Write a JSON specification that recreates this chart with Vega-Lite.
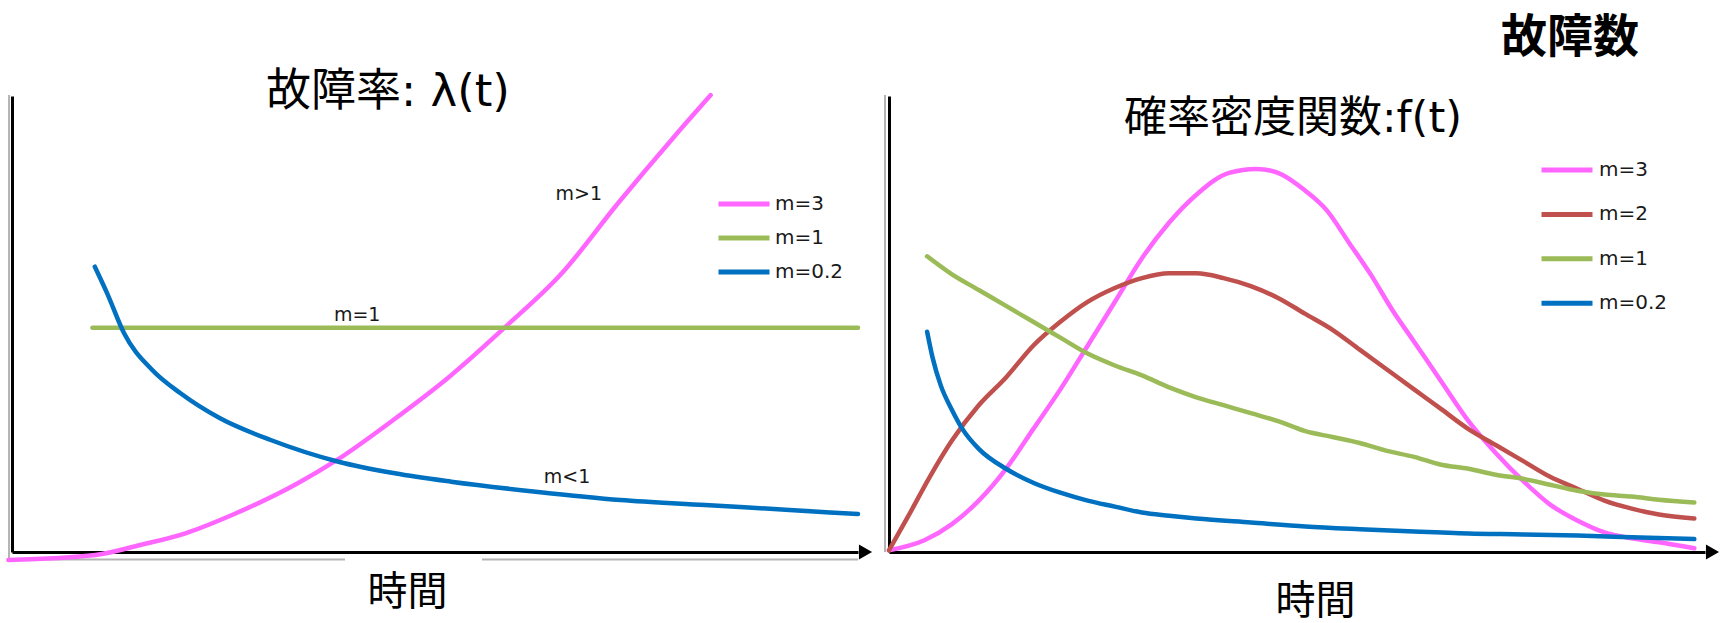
{
  "$schema": "https://vega.github.io/schema/vega-lite/v6.json",
  "autosize": {"type": "none"},
  "padding": {"left": 12, "top": 96, "right": 1711, "bottom": 527},
  "background": "white",
  "bounds": "flush",
  "spacing": 31,
  "config": {
    "view": {"stroke": null},
    "axis": {
      "grid": false, "ticks": false, "labels": false,
      "domainColor": "#000000", "domainWidth": 3,
      "titleFont": "Noto Sans CJK JP", "titleFontSize": 40, "titleFontWeight": "normal", "titleColor": "#000000"
    },
    "legend": {
      "title": null, "orient": "none", "padding": 0,
      "symbolType": "stroke", "symbolSize": 2601, "symbolStrokeWidth": 5,
      "clipHeight": 24,
      "labelFont": "DejaVu Sans", "labelFontSize": 20, "labelColor": "#1a1a1a"
    }
  },
  "datasets": {
    "lambda": [
      {"m": "m=3", "t": -0.43, "v": -1.75}, {"m": "m=3", "t": 9.87, "v": -0.66}, {"m": "m=3", "t": 15.18, "v": 1.54},
      {"m": "m=3", "t": 20.5, "v": 4.1}, {"m": "m=3", "t": 26.48, "v": 8.49}, {"m": "m=3", "t": 33.78, "v": 15.07},
      {"m": "m=3", "t": 38.42, "v": 20.18}, {"m": "m=3", "t": 45.07, "v": 28.95}, {"m": "m=3", "t": 51.7, "v": 38.44},
      {"m": "m=3", "t": 58.35, "v": 49.41}, {"m": "m=3", "t": 64.99, "v": 61.12}, {"m": "m=3", "t": 71.63, "v": 76.47},
      {"m": "m=3", "t": 78.27, "v": 91.07}, {"m": "m=3", "t": 82.59, "v": 100.2},
      {"m": "m=1", "t": 9.5, "v": 49.2}, {"m": "m=1", "t": 100, "v": 49.2},
      {"m": "m=0.2", "t": 9.79, "v": 62.57}, {"m": "m=0.2", "t": 11.25, "v": 56.73}, {"m": "m=0.2", "t": 13.25, "v": 47.96},
      {"m": "m=0.2", "t": 16.58, "v": 39.91}, {"m": "m=0.2", "t": 19.92, "v": 34.8}, {"m": "m=0.2", "t": 24.59, "v": 29.32},
      {"m": "m=0.2", "t": 30.58, "v": 24.56}, {"m": "m=0.2", "t": 38.58, "v": 19.8}, {"m": "m=0.2", "t": 45.25, "v": 17.26},
      {"m": "m=0.2", "t": 51.91, "v": 15.42}, {"m": "m=0.2", "t": 61.91, "v": 13.22}, {"m": "m=0.2", "t": 71.91, "v": 11.4},
      {"m": "m=0.2", "t": 81.91, "v": 10.31}, {"m": "m=0.2", "t": 91.92, "v": 9.21}, {"m": "m=0.2", "t": 100, "v": 8.33}
    ],
    "density": [
      {"m": "m=3", "t": 0, "v": 0.37}, {"m": "m=3", "t": 4.34, "v": 2.57}, {"m": "m=3", "t": 7.67, "v": 6.05},
      {"m": "m=3", "t": 11.0, "v": 11.27}, {"m": "m=3", "t": 14.34, "v": 18.25}, {"m": "m=3", "t": 17.67, "v": 26.95},
      {"m": "m=3", "t": 21.0, "v": 35.66}, {"m": "m=3", "t": 24.34, "v": 45.24}, {"m": "m=3", "t": 27.67, "v": 54.82},
      {"m": "m=3", "t": 31.0, "v": 64.43}, {"m": "m=3", "t": 34.34, "v": 72.26}, {"m": "m=3", "t": 37.67, "v": 78.36},
      {"m": "m=3", "t": 41.68, "v": 83.16}, {"m": "m=3", "t": 45.01, "v": 84.01}, {"m": "m=3", "t": 47.67, "v": 83.16},
      {"m": "m=3", "t": 51.02, "v": 79.23}, {"m": "m=3", "t": 53.68, "v": 74.87}, {"m": "m=3", "t": 56.35, "v": 67.89},
      {"m": "m=3", "t": 59.01, "v": 60.94}, {"m": "m=3", "t": 61.68, "v": 53.09}, {"m": "m=3", "t": 64.35, "v": 46.12},
      {"m": "m=3", "t": 67.68, "v": 37.41}, {"m": "m=3", "t": 71.02, "v": 28.71}, {"m": "m=3", "t": 74.35, "v": 21.73},
      {"m": "m=3", "t": 77.68, "v": 15.64}, {"m": "m=3", "t": 81.02, "v": 10.39}, {"m": "m=3", "t": 84.35, "v": 6.91},
      {"m": "m=3", "t": 87.68, "v": 4.3}, {"m": "m=3", "t": 91.02, "v": 3.0}, {"m": "m=3", "t": 94.35, "v": 2.13},
      {"m": "m=3", "t": 98.69, "v": 0.81},
      {"m": "m=2", "t": 0, "v": 0.37}, {"m": "m=2", "t": 2.34, "v": 7.79}, {"m": "m=2", "t": 5.0, "v": 16.49},
      {"m": "m=2", "t": 7.67, "v": 24.34}, {"m": "m=2", "t": 11.0, "v": 32.19}, {"m": "m=2", "t": 14.34, "v": 38.29},
      {"m": "m=2", "t": 17.67, "v": 45.24}, {"m": "m=2", "t": 21.0, "v": 50.48}, {"m": "m=2", "t": 24.34, "v": 54.85},
      {"m": "m=2", "t": 27.67, "v": 57.89}, {"m": "m=2", "t": 31.0, "v": 60.07}, {"m": "m=2", "t": 34.34, "v": 61.12},
      {"m": "m=2", "t": 37.67, "v": 61.12}, {"m": "m=2", "t": 41.0, "v": 60.07}, {"m": "m=2", "t": 44.34, "v": 58.31},
      {"m": "m=2", "t": 47.67, "v": 55.7}, {"m": "m=2", "t": 51.02, "v": 52.21}, {"m": "m=2", "t": 54.35, "v": 48.73},
      {"m": "m=2", "t": 57.68, "v": 44.39}, {"m": "m=2", "t": 61.02, "v": 40.02}, {"m": "m=2", "t": 64.35, "v": 35.66},
      {"m": "m=2", "t": 67.68, "v": 31.32}, {"m": "m=2", "t": 71.02, "v": 26.95}, {"m": "m=2", "t": 74.35, "v": 23.46},
      {"m": "m=2", "t": 77.68, "v": 19.98}, {"m": "m=2", "t": 81.02, "v": 16.49}, {"m": "m=2", "t": 84.35, "v": 13.88},
      {"m": "m=2", "t": 87.68, "v": 11.27}, {"m": "m=2", "t": 91.02, "v": 9.52}, {"m": "m=2", "t": 94.35, "v": 8.22},
      {"m": "m=2", "t": 98.69, "v": 7.35},
      {"m": "m=1", "t": 4.67, "v": 64.85}, {"m": "m=1", "t": 7.67, "v": 60.94}, {"m": "m=1", "t": 11.0, "v": 57.46},
      {"m": "m=1", "t": 14.34, "v": 53.97}, {"m": "m=1", "t": 17.67, "v": 50.48}, {"m": "m=1", "t": 21.0, "v": 47.0},
      {"m": "m=1", "t": 24.34, "v": 43.51}, {"m": "m=1", "t": 27.67, "v": 40.9}, {"m": "m=1", "t": 31.0, "v": 38.73},
      {"m": "m=1", "t": 34.34, "v": 36.1}, {"m": "m=1", "t": 37.67, "v": 33.93}, {"m": "m=1", "t": 41.0, "v": 32.19},
      {"m": "m=1", "t": 44.34, "v": 30.44}, {"m": "m=1", "t": 47.67, "v": 28.71}, {"m": "m=1", "t": 51.02, "v": 26.51},
      {"m": "m=1", "t": 54.35, "v": 25.22}, {"m": "m=1", "t": 57.68, "v": 23.9}, {"m": "m=1", "t": 61.02, "v": 22.17},
      {"m": "m=1", "t": 64.35, "v": 20.86}, {"m": "m=1", "t": 67.68, "v": 19.12}, {"m": "m=1", "t": 71.02, "v": 18.25},
      {"m": "m=1", "t": 74.35, "v": 16.93}, {"m": "m=1", "t": 77.68, "v": 16.07}, {"m": "m=1", "t": 81.02, "v": 14.76},
      {"m": "m=1", "t": 84.35, "v": 13.44}, {"m": "m=1", "t": 87.68, "v": 12.59}, {"m": "m=1", "t": 91.02, "v": 12.15},
      {"m": "m=1", "t": 94.35, "v": 11.45}, {"m": "m=1", "t": 98.69, "v": 10.83},
      {"m": "m=0.2", "t": 4.67, "v": 48.31}, {"m": "m=0.2", "t": 5.34, "v": 42.63}, {"m": "m=0.2", "t": 6.34, "v": 36.54},
      {"m": "m=0.2", "t": 7.67, "v": 31.32}, {"m": "m=0.2", "t": 9.01, "v": 26.95}, {"m": "m=0.2", "t": 11.0, "v": 22.61},
      {"m": "m=0.2", "t": 14.34, "v": 18.25}, {"m": "m=0.2", "t": 17.67, "v": 15.2}, {"m": "m=0.2", "t": 21.0, "v": 13.0},
      {"m": "m=0.2", "t": 24.34, "v": 11.27}, {"m": "m=0.2", "t": 27.67, "v": 9.96}, {"m": "m=0.2", "t": 31.0, "v": 8.66},
      {"m": "m=0.2", "t": 34.34, "v": 7.96}, {"m": "m=0.2", "t": 37.67, "v": 7.35}, {"m": "m=0.2", "t": 44.34, "v": 6.47},
      {"m": "m=0.2", "t": 51.02, "v": 5.61}, {"m": "m=0.2", "t": 57.68, "v": 5.0}, {"m": "m=0.2", "t": 64.35, "v": 4.47},
      {"m": "m=0.2", "t": 71.02, "v": 4.04}, {"m": "m=0.2", "t": 77.68, "v": 3.86}, {"m": "m=0.2", "t": 84.35, "v": 3.6},
      {"m": "m=0.2", "t": 91.02, "v": 3.25}, {"m": "m=0.2", "t": 98.69, "v": 2.83}
    ],
    "lambda_frame": [
      {"t": -0.12, "t2": 39.36, "v": -1.64, "v2": -1.64},
      {"t": 55.56, "t2": 100, "v": -1.64, "v2": -1.64},
      {"t": -0.35, "t2": -0.35, "v": -1.64, "v2": 100.2}
    ],
    "density_frame": [
      {"t": -0.49, "t2": -0.49, "v": 0, "v2": 100.2}
    ],
    "lambda_arrow": [{"t": 100.89, "v": 0}],
    "density_arrow": [{"t": 100.92, "v": 0}],
    "lambda_notes": [
      {"t": 67.0, "v": 78.6, "label": "m>1"},
      {"t": 40.8, "v": 52.08, "label": "m=1"},
      {"t": 65.6, "v": 16.45, "label": "m<1"}
    ],
    "lambda_title": [{"t": 44.44, "v": 100.88, "label": "故障率: λ(t)"}],
    "density_title": [{"t": 49.51, "v": 94.96, "label": "確率密度関数:f(t)"}],
    "density_heading": [{"t": 83.46, "v": 112.7, "label": "故障数"}]
  },
  "hconcat": [
    {
      "width": 846,
      "height": 456,
      "encoding": {
        "x": {
          "field": "t", "type": "quantitative",
          "scale": {"domain": [0, 100], "nice": false, "zero": false},
          "axis": {"title": "時間", "titleX": 395, "titleY": 40, "titleAlign": "center", "titleBaseline": "middle"}
        },
        "y": {
          "field": "v", "type": "quantitative",
          "scale": {"domain": [0, 100], "nice": false, "zero": false},
          "axis": {"title": null}
        }
      },
      "layer": [
        {
          "data": {"name": "lambda_frame"},
          "mark": {"type": "rule", "color": "#b4b4b4", "strokeWidth": 2, "clip": false},
          "encoding": {"x2": {"field": "t2"}, "y2": {"field": "v2"}}
        },
        {
          "data": {"name": "lambda"},
          "mark": {"type": "line", "strokeWidth": 4.5, "strokeCap": "round", "interpolate": "monotone", "clip": false},
          "encoding": {
            "color": {
              "field": "m", "type": "nominal",
              "scale": {"domain": ["m=3", "m=1", "m=0.2"], "range": ["#FF66FF", "#9BBB59", "#0070C0"]},
              "legend": {"legendX": 704, "legendY": 96, "rowPadding": 10, "labelOffset": 3}
            }
          }
        },
        {
          "data": {"name": "lambda_arrow"},
          "mark": {"type": "point", "shape": "triangle-right", "size": 230, "filled": true, "color": "#000000", "opacity": 1, "clip": false},
          "encoding": {}
        },
        {
          "data": {"name": "lambda_notes"},
          "mark": {"type": "text", "font": "DejaVu Sans", "fontSize": 19, "color": "#1a1a1a", "align": "center", "baseline": "middle", "clip": false},
          "encoding": {"text": {"field": "label"}}
        },
        {
          "data": {"name": "lambda_title"},
          "mark": {"type": "text", "font": "DejaVu Sans, Noto Sans CJK JP", "fontSize": 45, "color": "#000000", "align": "center", "baseline": "middle", "clip": false},
          "encoding": {"text": {"field": "label"}}
        }
      ]
    },
    {
      "width": 816,
      "height": 456,
      "encoding": {
        "x": {
          "field": "t", "type": "quantitative",
          "scale": {"domain": [0, 100], "nice": false, "zero": false},
          "axis": {"title": "時間", "titleX": 426, "titleY": 49, "titleAlign": "center", "titleBaseline": "middle"}
        },
        "y": {
          "field": "v", "type": "quantitative",
          "scale": {"domain": [0, 100], "nice": false, "zero": false},
          "axis": {"title": null}
        }
      },
      "layer": [
        {
          "data": {"name": "density_frame"},
          "mark": {"type": "rule", "color": "#b4b4b4", "strokeWidth": 2, "clip": false},
          "encoding": {"x2": {"field": "t2"}, "y2": {"field": "v2"}}
        },
        {
          "data": {"name": "density"},
          "mark": {"type": "line", "strokeWidth": 4.5, "strokeCap": "round", "interpolate": "monotone", "clip": false},
          "encoding": {
            "color": {
              "field": "m", "type": "nominal",
              "scale": {"domain": ["m=3", "m=2", "m=1", "m=0.2"], "range": ["#FF66FF", "#C0504D", "#9BBB59", "#0070C0"]},
              "legend": {"legendX": 650, "legendY": 62, "rowPadding": 20.4, "labelOffset": 4}
            }
          }
        },
        {
          "data": {"name": "density_arrow"},
          "mark": {"type": "point", "shape": "triangle-right", "size": 230, "filled": true, "color": "#000000", "opacity": 1, "clip": false},
          "encoding": {}
        },
        {
          "data": {"name": "density_title"},
          "mark": {"type": "text", "font": "DejaVu Sans, Noto Sans CJK JP", "fontSize": 43, "color": "#000000", "align": "center", "baseline": "middle", "clip": false},
          "encoding": {"text": {"field": "label"}}
        },
        {
          "data": {"name": "density_heading"},
          "mark": {"type": "text", "font": "Noto Sans CJK JP", "fontSize": 46, "fontWeight": "bold", "color": "#000000", "align": "center", "baseline": "middle", "clip": false},
          "encoding": {"text": {"field": "label"}}
        }
      ]
    }
  ],
  "resolve": {"scale": {"color": "independent"}}
}
